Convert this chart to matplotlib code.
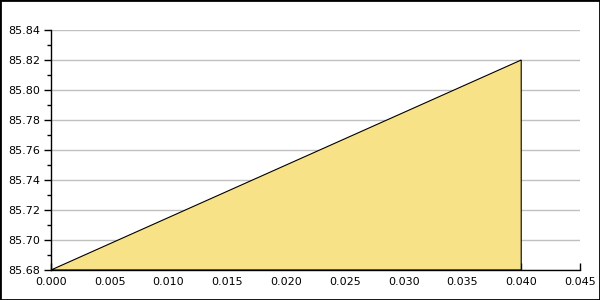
import matplotlib
matplotlib.use('Agg')
import matplotlib.pyplot as plt
from matplotlib.ticker import MultipleLocator, FormatStrFormatter
from matplotlib.patches import Rectangle

# data
x_vals = [0.0, 0.04]
y_vals = [85.68, 85.82]
y_base = 85.68

fig = plt.figure(figsize=(6, 3), dpi=100)
ax = fig.add_axes([51 / 600, 30 / 300, 529 / 600, 240 / 300])

# area under the line, closed with a black edge
px = x_vals + [x_vals[-1], x_vals[0]]
py = y_vals + [y_base, y_base]
ax.fill(px, py, facecolor='#f7e288', edgecolor='black', linewidth=0.8, zorder=2)

ax.set_xlim(0, 0.045)
ax.set_ylim(85.68, 85.84)

ax.xaxis.set_major_locator(MultipleLocator(0.005))
ax.xaxis.set_major_formatter(FormatStrFormatter('%.3f'))
ax.yaxis.set_major_locator(MultipleLocator(0.02))
ax.yaxis.set_minor_locator(MultipleLocator(0.01))
ax.yaxis.set_major_formatter(FormatStrFormatter('%.2f'))

ax.grid(axis='y', which='major', color='#c0c0c0', linewidth=1, zorder=0)
ax.set_axisbelow(True)

for s in ['top', 'right']:
    ax.spines[s].set_visible(False)
for s in ['left', 'bottom']:
    ax.spines[s].set_linewidth(1)
    ax.spines[s].set_zorder(3)

ax.tick_params(axis='y', which='major', direction='out', length=5, width=1, labelsize=8, pad=3)
ax.tick_params(axis='y', which='minor', direction='out', length=3, width=1)
ax.tick_params(axis='x', which='major', direction='in', length=5, width=1, labelsize=8, pad=5)
ax.tick_params(axis='x', which='minor', length=0)

# frame around the whole picture
fig.patches.append(Rectangle((0, 0), 1, 1, transform=fig.transFigure,
                             fill=False, edgecolor='black', linewidth=2))

fig.savefig('out.png', dpi=100)
